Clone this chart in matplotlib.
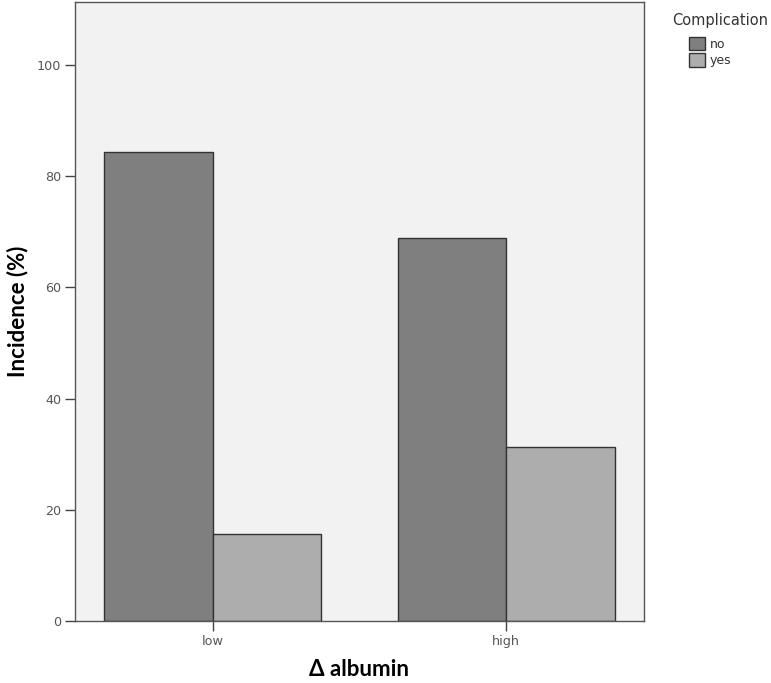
import numpy as np
import matplotlib
matplotlib.use("Agg")
import matplotlib.pyplot as plt

# data
groups = ["low", "high"]
series = ["no", "yes"]
incidence_no = [84.4, 68.8]
incidence_yes = [15.6, 31.2]
yticks = [0, 20, 40, 60, 80, 100]

colors = {"no": "#7f7f7f", "yes": "#adadad"}

plt.rcParams["font.family"] = ["DejaVu Sans"]
label_font = ["Lato", "DejaVu Sans"]

fig = plt.figure(figsize=(7.71, 6.83), dpi=100)
ax = fig.add_axes([0.0973, 0.0908, 0.7377, 0.9062])
ax.set_facecolor("#f2f2f2")

x = np.arange(len(groups))
w = 0.37
ax.bar(x - w / 2, incidence_no, width=w, color=colors["no"],
       edgecolor="#333333", linewidth=1.0, label="no")
ax.bar(x + w / 2, incidence_yes, width=w, color=colors["yes"],
       edgecolor="#333333", linewidth=1.0, label="yes")

ax.set_xlim(-0.468, 1.468)
ax.set_ylim(0, 111.3)
ax.set_yticks(yticks)
ax.set_xticks(x)
ax.set_xticklabels(groups)
ax.tick_params(axis="both", direction="out", length=7, width=1,
               color="#444444", labelcolor="#555555", labelsize=9.2, pad=3)

for s in ax.spines.values():
    s.set_color("#555555")
    s.set_linewidth(1.0)

ax.set_ylabel("Incidence (%)", fontsize=16, fontweight="bold",
              family=label_font, labelpad=6)
ax.set_xlabel("\u0394 albumin", fontsize=16, fontweight="bold",
              family=label_font, labelpad=8)

fig.text(672 / 771, 1 - 20 / 683, "Complication", fontsize=10.5,
         color="#333333", va="center", ha="left")
fig.legend(loc="upper left", bbox_to_anchor=(689 / 771, 1 - 37 / 683),
           frameon=False, fontsize=9, labelcolor="#333333",
           handlelength=1.25, handleheight=1.25, handletextpad=0.4,
           labelspacing=0.2, borderaxespad=0, borderpad=0)

fig.savefig("out.png", dpi=100)
